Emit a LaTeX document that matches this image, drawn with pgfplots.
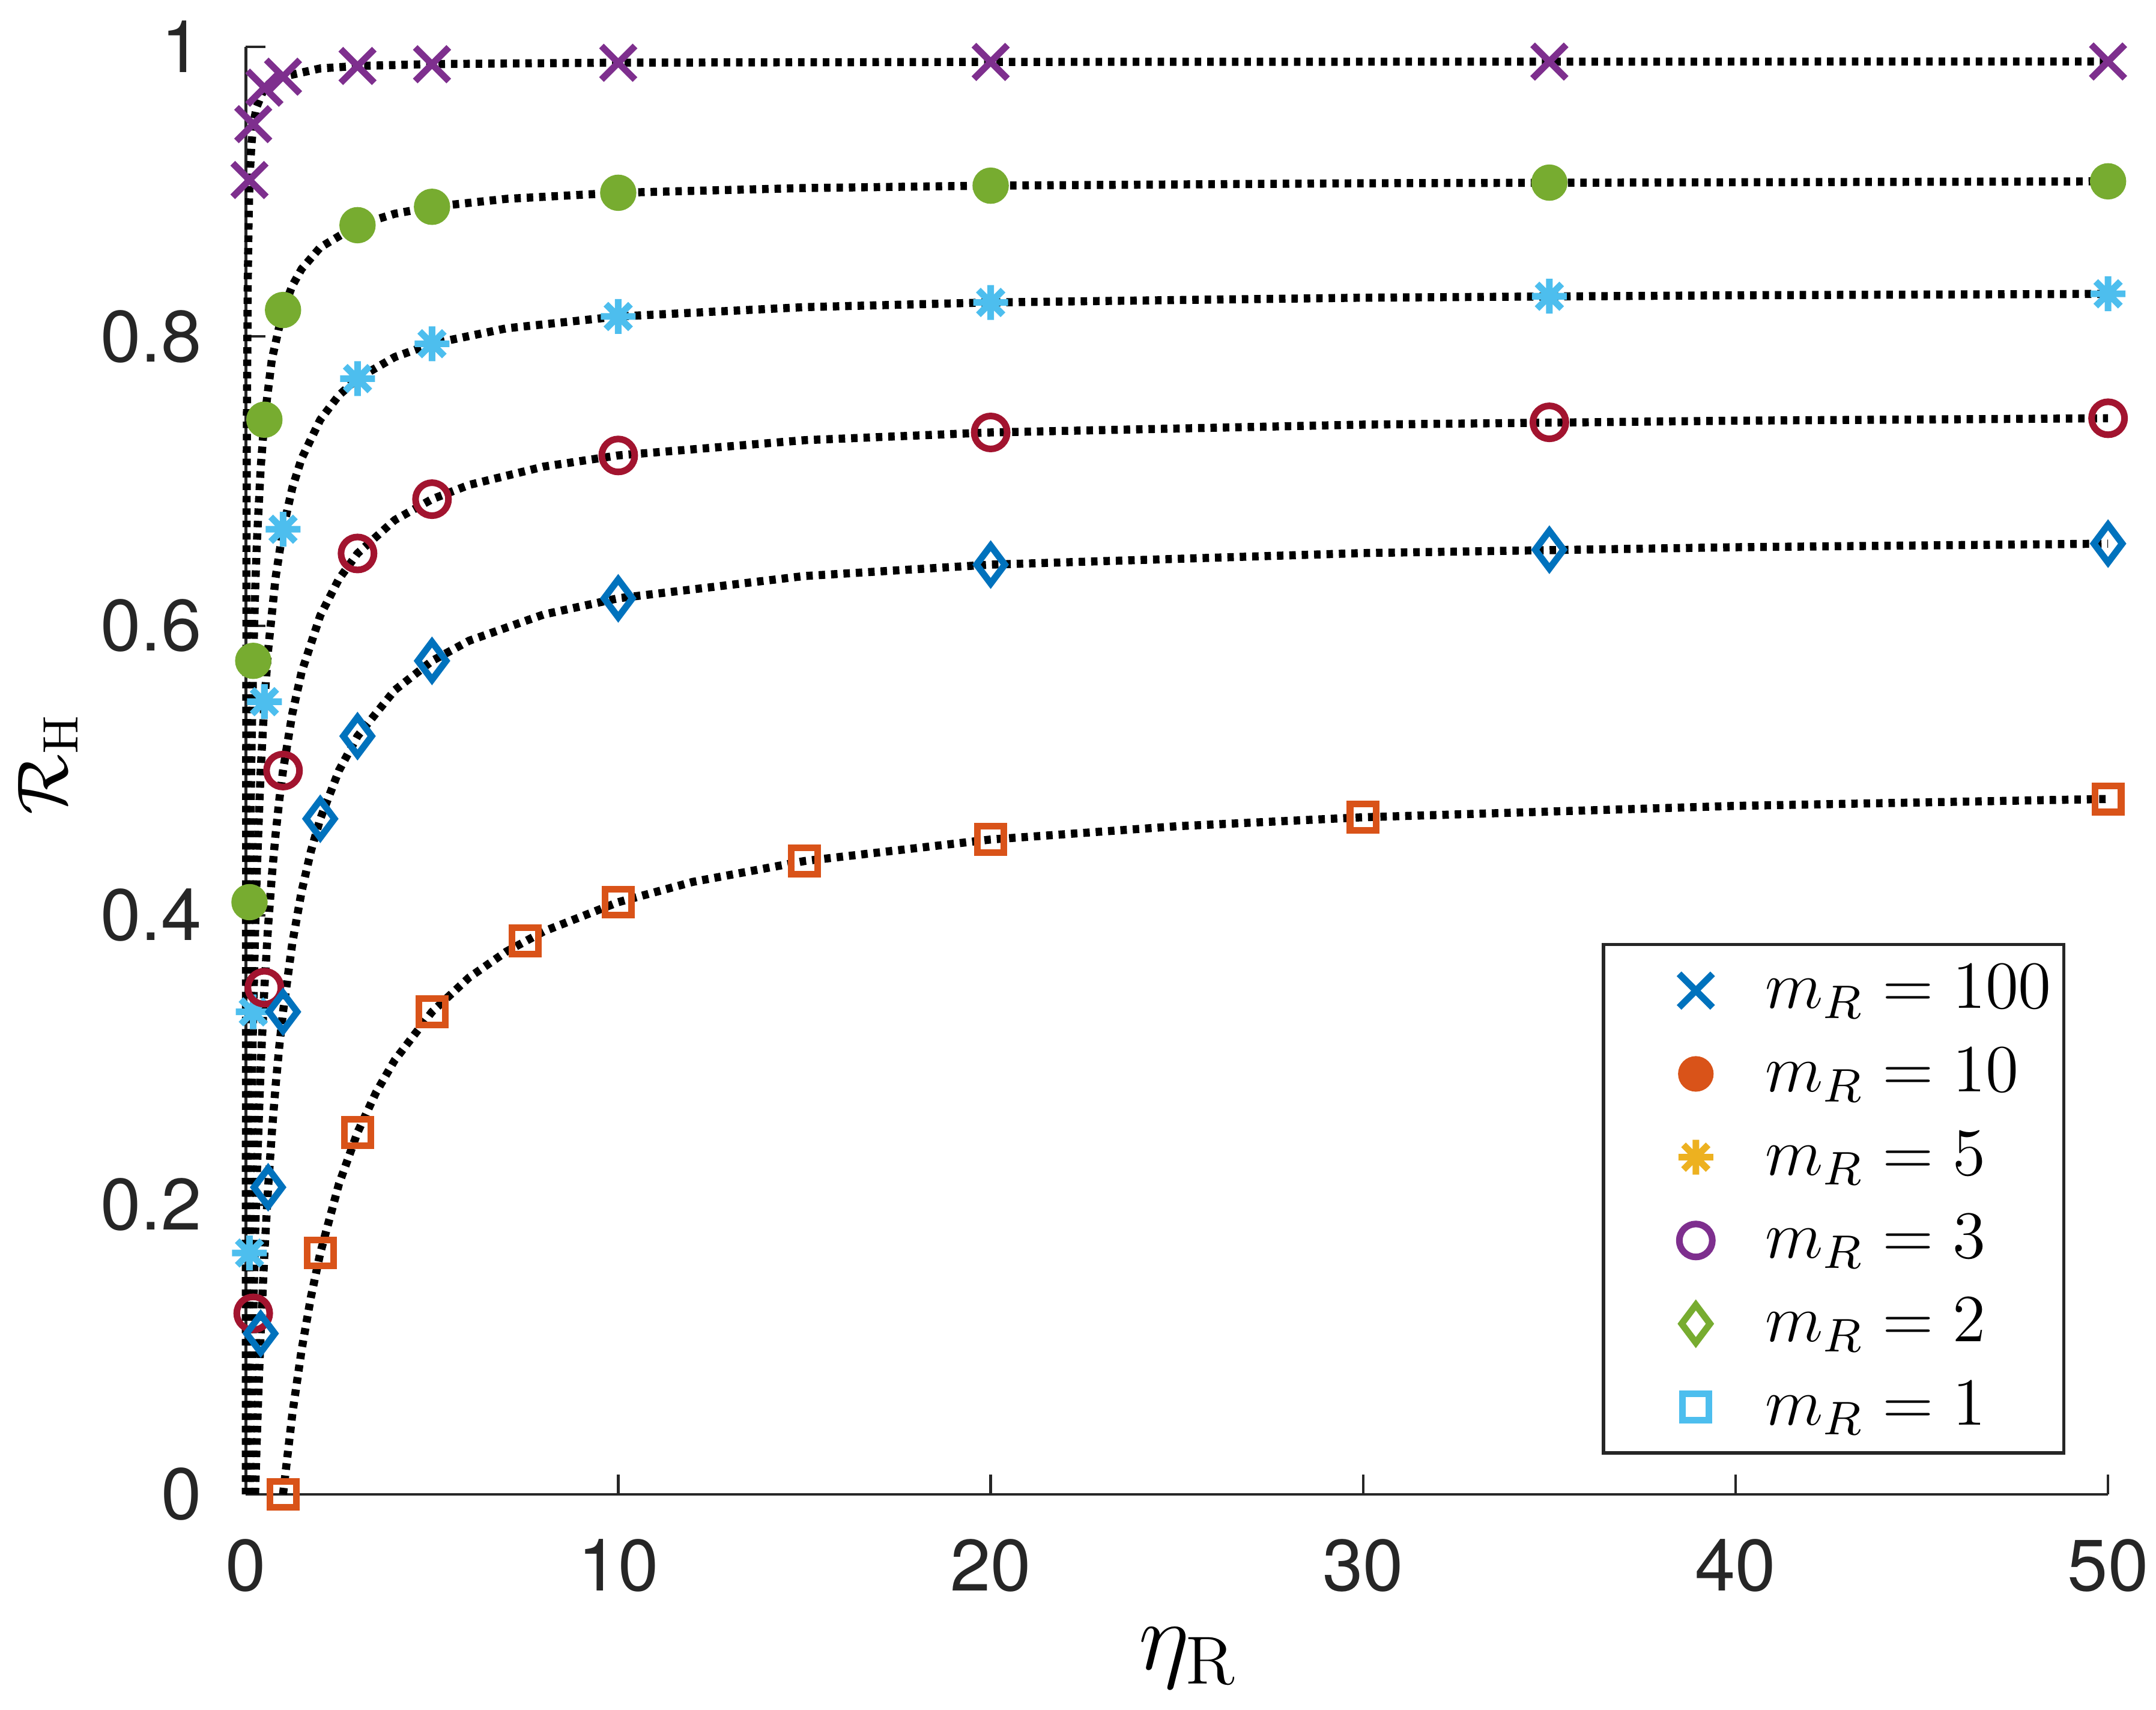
\RequirePackage{fix-cm}
\documentclass[border=0pt]{standalone}
\usepackage{fontspec}
\usepackage{pgfplots}
\pgfplotsset{compat=1.18}
\usetikzlibrary{plotmarks}
\newfontfamily\heros{TeX Gyre Heros}
\definecolor{axgray}{RGB}{38,38,38}
\definecolor{mpurple}{RGB}{126,47,142}
\definecolor{mgreen}{RGB}{119,172,48}
\definecolor{mlblue}{RGB}{77,190,238}
\definecolor{mred}{RGB}{162,20,47}
\definecolor{mblue}{RGB}{0,114,189}
\definecolor{morange}{RGB}{217,83,25}
\definecolor{myellow}{RGB}{237,177,32}
\pgfdeclareplotmark{matast}{%
  \pgfpathmoveto{\pgfqpoint{-\pgfplotmarksize}{0pt}}\pgfpathlineto{\pgfqpoint{\pgfplotmarksize}{0pt}}%
  \pgfpathmoveto{\pgfqpoint{0pt}{-\pgfplotmarksize}}\pgfpathlineto{\pgfqpoint{0pt}{\pgfplotmarksize}}%
  \pgfpathmoveto{\pgfqpoint{-0.7071\pgfplotmarksize}{-0.7071\pgfplotmarksize}}\pgfpathlineto{\pgfqpoint{0.7071\pgfplotmarksize}{0.7071\pgfplotmarksize}}%
  \pgfpathmoveto{\pgfqpoint{-0.7071\pgfplotmarksize}{0.7071\pgfplotmarksize}}\pgfpathlineto{\pgfqpoint{0.7071\pgfplotmarksize}{-0.7071\pgfplotmarksize}}%
  \pgfusepathqstroke}
\begin{document}
\begin{tikzpicture}
\begin{axis}[
  scale only axis, width=345.5pt, height=268.5pt,
  xmin=0, xmax=50, ymin=0, ymax=1,
  axis lines=left,
  axis line style={-, draw=axgray, line width=0.5pt},
  tick align=inside, major tick length=3.7pt,
  tick style={draw=axgray, line width=0.5pt},
  minor tick num=0,
  xtick={0,10,20,30,40,50}, xticklabels={0,10,20,30,40,50},
  ytick={0,0.2,0.4,0.6,0.8,1}, yticklabels={0,0.2,0.4,0.6,0.8,1},
  xticklabel style={font=\heros\fontsize{13.5}{16}\selectfont, text=axgray, inner sep=0pt, anchor=north, yshift=-8.1pt},
  yticklabel style={font=\heros\fontsize{13.5}{16}\selectfont, text=axgray, inner sep=0pt, anchor=east, xshift=-8pt},
  xlabel={$\eta_{\mathrm{R}}$},
  ylabel={$\mathcal{R}_{\mathrm{H}}$},
  xlabel style={font=\fontsize{18}{21}\selectfont, at={(rel axis cs:0.506,-0.121)}, anchor=base, inner sep=0pt},
  ylabel style={font=\fontsize{13.2}{16}\selectfont, at={(rel axis cs:-0.1062,0.5046)}, anchor=center, inner sep=0pt},
  clip=false,
  legend cell align=left,
  legend image code/.code={\path (0pt,0pt) (26.5pt,0pt); \draw[#1] plot coordinates {(14.2pt,0pt)};},
  legend style={at={(axis cs:48.86,0.0274)}, anchor=south east, draw=axgray, line width=0.6pt, fill=white,
    inner xsep=2.3pt, inner ysep=0.8pt, row sep=0pt, column sep=0pt,
    font=\fontsize{12.5}{15}\selectfont,
    nodes={inner sep=0pt, text height=11pt, text depth=4.45pt}},
]
% ---- markers (data) ----
\addplot[forget plot, only marks, mpurple, mark=x, mark size=4.4pt, line width=1.23pt] coordinates {
 (0.1,0.908) (0.2,0.9466) (0.5,0.9718) (1,0.9794) (3,0.9868) (5,0.988) (10,0.989) (20,0.9896) (35,0.9898) (50,0.9899)};
\addplot[forget plot, only marks, mgreen, mark=*, mark size=2.75pt, line width=1.23pt] coordinates {
 (0.1,0.4091) (0.2,0.5758) (0.5,0.7424) (1,0.8182) (3,0.8768) (5,0.8895) (10,0.8992) (20,0.9041) (35,0.9062) (50,0.9071)};
\addplot[forget plot, only marks, mlblue, mark=matast, mark size=3.23pt, line width=1.23pt] coordinates {
 (0.1,0.1667) (0.2,0.3333) (0.5,0.5476) (1,0.6667) (3,0.7708) (5,0.7949) (10,0.8137) (20,0.8234) (35,0.8277) (50,0.8294)};
\addplot[forget plot, only marks, mred, mark=o, mark size=3.06pt, line width=1.23pt] coordinates {
 (0.2,0.125) (0.5,0.35) (1,0.5) (3,0.65) (5,0.6875) (10,0.7177) (20,0.7336) (35,0.7406) (50,0.7434)};
\addplot[forget plot, only marks, mblue, mark=diamond, mark size=3.5pt, line width=1.23pt] coordinates {
 (0.4,0.1111) (0.6,0.2121) (1,0.3333) (2,0.4667) (3,0.5238) (5,0.5758) (10,0.6190) (20,0.6423) (35,0.6526) (50,0.6568)};
\addplot[forget plot, only marks, morange, mark=square, mark size=2.43pt, line width=1.23pt] coordinates {
 (1,0) (2,0.1667) (3,0.25) (5,0.3333) (7.5,0.3824) (10,0.4091) (15,0.4375) (20,0.4524) (30,0.4677) (50,0.4804)};
% ---- model curves ----
\pgfplotsset{curve/.style={forget plot, black, line width=1.5pt, dash pattern=on 1.2pt off 1.1pt, mark=none}}
\addplot[curve] coordinates {
 (0.0001,0) (0.0005,0.0377) (0.001,0.081) (0.002,0.157) (0.005,0.323) (0.01,0.49) (0.02,0.657) (0.03,0.74) (0.05,0.83) (0.075,0.88) (0.1,0.908) (0.15,0.932) (0.2,0.9466) (0.3,0.959) (0.5,0.9718) (0.75,0.977) (1,0.9794) (2,0.9851) (3,0.9868) (5,0.9881) (10,0.9891) (20,0.9896) (35,0.9898) (50,0.9899)};
\addplot[curve] coordinates {
 (0.01,0) (0.015,0.03953) (0.02,0.07576) (0.03,0.13986) (0.04,0.19481) (0.05,0.24242) (0.07,0.32086) (0.1,0.40909) (0.15,0.50909) (0.2,0.57576) (0.25,0.62338) (0.3,0.65909) (0.4,0.70909) (0.5,0.74242) (0.7,0.78409) (1,0.81818) (1.25,0.83502) (1.5,0.84659) (2,0.86147) (3,0.87683) (4,0.8847) (5,0.88948) (7,0.895) (10,0.89919) (15,0.90247) (20,0.90411) (30,0.90577) (50,0.9071)};
\addplot[curve] coordinates {
 (0.04,0) (0.05,0.03333) (0.06,0.0641) (0.07,0.09259) (0.08,0.11905) (0.1,0.16667) (0.125,0.21795) (0.15,0.2619) (0.2,0.33333) (0.25,0.38889) (0.3,0.43333) (0.4,0.5) (0.5,0.54762) (0.6,0.58333) (0.8,0.63333) (1,0.66667) (1.25,0.6954) (1.5,0.71569) (2,0.74242) (2.5,0.75926) (3,0.77083) (4,0.78571) (5,0.79487) (7,0.80556) (10,0.81373) (15,0.82018) (20,0.82343) (30,0.82671) (40,0.82836) (50,0.82935)};
\addplot[curve] coordinates {
 (0.11111,0) (0.13,0.03058) (0.15,0.06034) (0.175,0.09426) (0.2,0.125) (0.25,0.17857) (0.3,0.22368) (0.4,0.29545) (0.5,0.35) (0.6,0.39286) (0.7,0.42742) (0.8,0.45588) (0.9,0.47973) (1,0.5) (1.25,0.53947) (1.5,0.56818) (2,0.60714) (2.5,0.63235) (3,0.65) (4,0.67308) (5,0.6875) (6,0.69737) (8,0.71) (10,0.71774) (15,0.72826) (20,0.73361) (30,0.73901) (40,0.74174) (50,0.74338)};
\addplot[curve] coordinates {
 (0.25,0) (0.3,0.04167) (0.35,0.07843) (0.4,0.11111) (0.5,0.16667) (0.6,0.21212) (0.7,0.25) (0.8,0.28205) (0.9,0.30952) (1,0.33333) (1.25,0.38095) (1.5,0.41667) (1.75,0.44444) (2,0.46667) (2.5,0.5) (3,0.52381) (4,0.55556) (5,0.57576) (6,0.58974) (8,0.60784) (10,0.61905) (15,0.63441) (20,0.64228) (30,0.65027) (40,0.65432) (50,0.65677)};
\addplot[curve] coordinates {
 (1,0) (1.25,0.05556) (1.5,0.1) (1.75,0.13636) (2,0.16667) (2.5,0.21429) (3,0.25) (3.5,0.27778) (4,0.3) (5,0.33333) (6,0.35714) (7,0.375) (8,0.38889) (10,0.40909) (12,0.42308) (15,0.4375) (20,0.45238) (25,0.46154) (30,0.46774) (40,0.47561) (50,0.48039)};
% ---- legend (MATLAB default colour order) ----
\addlegendimage{mblue, mark=x, mark size=4.4pt, line width=1.23pt}
\addlegendentry{$m_R = 100$}
\addlegendimage{morange, mark=*, mark size=2.68pt, line width=1.23pt}
\addlegendentry{$m_R = 10$}
\addlegendimage{myellow, mark=matast, mark size=3.23pt, line width=1.23pt}
\addlegendentry{$m_R = 5$}
\addlegendimage{mpurple, mark=o, mark size=3.06pt, line width=1.23pt}
\addlegendentry{$m_R = 3$}
\addlegendimage{mgreen, mark=diamond, mark size=3.5pt, line width=1.23pt}
\addlegendentry{$m_R = 2$}
\addlegendimage{mlblue, mark=square, mark size=2.43pt, line width=1.23pt}
\addlegendentry{$m_R = 1$}
\end{axis}
\pgfresetboundingbox
\path (current axis.south west) ++(-45.6pt,-40pt) (current axis.north east) ++(8.9pt,8.7pt);
\end{tikzpicture}
\end{document}
